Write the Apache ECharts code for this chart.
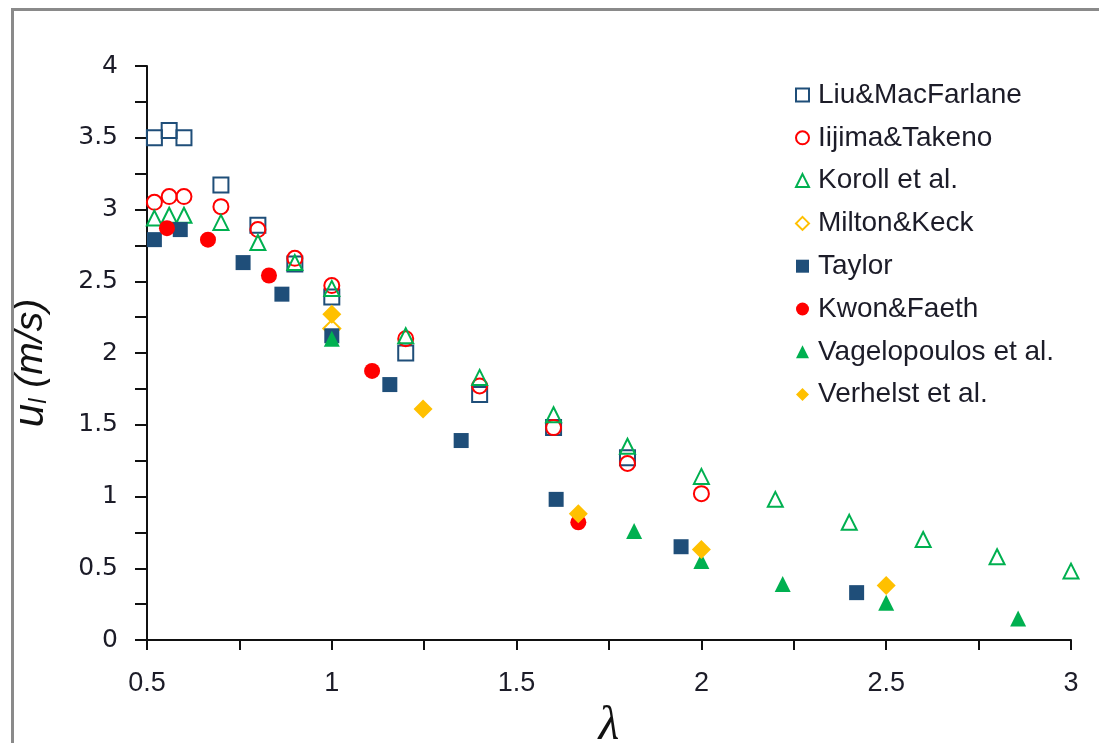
<!DOCTYPE html>
<html>
<head>
<meta charset="utf-8">
<script src="https://cdn.jsdelivr.net/npm/echarts@6/dist/echarts.min.js"></script>
<style>
  html, body { margin: 0; padding: 0; background: #fff; }
  #chart { width: 1099px; height: 743px; }
</style>
</head>
<body>
<div id="chart"></div>
<script>
// Laminar burning velocity vs. equivalence ratio, by data source
const liuX = [0.52, 0.56, 0.6, 0.7, 0.8, 0.9, 1.0, 1.2, 1.4, 1.6, 1.8];
const liuY = [3.5, 3.55, 3.5, 3.17, 2.89, 2.62, 2.39, 2.0, 1.71, 1.48, 1.27];

const iijimaX = [0.52, 0.56, 0.6, 0.7, 0.8, 0.9, 1.0, 1.2, 1.4, 1.6, 1.8, 2.0];
const iijimaY = [3.05, 3.09, 3.09, 3.02, 2.86, 2.66, 2.47, 2.1, 1.77, 1.48, 1.23, 1.02];

const korollX = [0.52, 0.56, 0.6, 0.7, 0.8, 0.9, 1.0, 1.2, 1.4, 1.6, 1.8, 2.0, 2.2, 2.4, 2.6, 2.8, 3.0];
const korollY = [2.94, 2.96, 2.96, 2.91, 2.77, 2.63, 2.45, 2.12, 1.83, 1.57, 1.35, 1.14, 0.98, 0.82, 0.7, 0.58, 0.48];

const miltonX = [1.0];
const miltonY = [2.17];

const taylorX = [0.52, 0.59, 0.76, 0.865, 1.0, 1.157, 1.35, 1.607, 1.945, 2.42];
const taylorY = [2.79, 2.86, 2.63, 2.41, 2.12, 1.78, 1.39, 0.98, 0.65, 0.33];

const kwonX = [0.554, 0.665, 0.83, 1.109, 1.667];
const kwonY = [2.87, 2.79, 2.54, 1.875, 0.82];

const vageX = [1.0, 1.818, 2.0, 2.22, 2.5, 2.857];
const vageY = [2.1, 0.76, 0.55, 0.39, 0.26, 0.15];

const verhelstX = [1.0, 1.247, 1.667, 2.0, 2.5];
const verhelstY = [2.27, 1.61, 0.88, 0.63, 0.38];

const seriesNames = ['Liu&MacFarlane', 'Iijima&Takeno', 'Koroll et al.', 'Milton&Keck',
                     'Taylor', 'Kwon&Faeth', 'Vagelopoulos et al.', 'Verhelst et al.'];

const NAVY = '#1F4E79', RED = '#FF0000', GREEN = '#00B050', ORANGE = '#FFC000';

function pairs(xs, ys) { return xs.map((x, i) => [x, ys[i]]); }

function openSeries(name, xs, ys, symbol, color, size) {
  return {
    name, type: 'scatter', data: pairs(xs, ys), symbol, symbolSize: size,
    itemStyle: { color: 'rgba(255,255,255,0)', borderColor: color, borderWidth: 2, opacity: 1 },
    emphasis: { disabled: true }
  };
}
function filledSeries(name, xs, ys, symbol, color, size) {
  return {
    name, type: 'scatter', data: pairs(xs, ys), symbol, symbolSize: size,
    itemStyle: { color: color, borderWidth: 0, opacity: 1 },
    emphasis: { disabled: true }
  };
}

const chart = echarts.init(document.getElementById('chart'), null, { renderer: 'canvas' });

const axisLine = { show: true, onZero: false, lineStyle: { color: '#111', width: 2 } };

chart.setOption({
  animation: false,
  backgroundColor: '#fff',
  graphic: [{
    type: 'rect', left: 10, top: 7, z: -10,
    shape: { width: 1200, height: 800 },
    style: { fill: 'none', stroke: '#8a8a8a', lineWidth: 3 }
  }],
  grid: { left: 147, right: 28, top: 66, bottom: 103, outerBoundsMode: 'none', containLabel: false },
  legend: {
    orient: 'vertical', left: 790, top: 76,
    itemWidth: 13, itemHeight: 13, itemGap: 14.8,
    data: seriesNames,
    textStyle: { fontFamily: 'Liberation Sans', fontSize: 28, color: '#1c1c28', lineHeight: 28, padding: [0, 0, 0, 4] }
  },
  xAxis: {
    type: 'value', min: 0.5, max: 3, interval: 0.5,
    name: 'λ', nameLocation: 'middle', nameGap: 45,
    nameTextStyle: { fontFamily: 'Liberation Serif', fontStyle: 'italic', fontSize: 48, color: '#111' },
    axisLine,
    axisTick: { show: true, length: 10, lineStyle: { color: '#111', width: 2 } },
    minorTick: { show: true, splitNumber: 2, length: 10, lineStyle: { color: '#111', width: 2 } },
    splitLine: { show: false },
    axisLabel: { margin: 30, fontFamily: 'Liberation Sans', fontSize: 27, color: '#1c1c28',
                 formatter: v => String(+v.toFixed(2)) }
  },
  yAxis: {
    type: 'value', min: 0, max: 4, interval: 0.5,
    name: '{u|u}{l|l}{p| (m/s)}', nameLocation: 'middle', nameGap: 96, nameRotate: 90,
    nameTextStyle: {
      color: '#111',
      padding: [0, 20, 0, 0],
      rich: {
        u: { fontFamily: 'Liberation Sans', fontStyle: 'italic', fontSize: 42, lineHeight: 40, color: '#111' },
        l: { fontFamily: 'Liberation Sans', fontStyle: 'italic', fontSize: 24, lineHeight: 14, verticalAlign: 'bottom', color: '#111' },
        p: { fontFamily: 'Liberation Sans', fontStyle: 'italic', fontSize: 39, lineHeight: 40, color: '#111' }
      }
    },
    axisLine,
    axisTick: { show: true, length: 12, lineStyle: { color: '#111', width: 2 } },
    minorTick: { show: true, splitNumber: 2, length: 12, lineStyle: { color: '#111', width: 2 } },
    splitLine: { show: false },
    axisLabel: { margin: 29, fontFamily: 'DejaVu Sans', fontSize: 25, color: '#1c1c28',
                 formatter: v => String(+v.toFixed(2)) }
  },
  series: [
    openSeries('Liu&MacFarlane', liuX, liuY, 'rect', NAVY, 15),
    openSeries('Iijima&Takeno', iijimaX, iijimaY, 'circle', RED, 15),
    openSeries('Koroll et al.', korollX, korollY, 'triangle', GREEN, 15),
    openSeries('Milton&Keck', miltonX, miltonY, 'diamond', ORANGE, 17),
    filledSeries('Taylor', taylorX, taylorY, 'rect', NAVY, 15),
    filledSeries('Kwon&Faeth', kwonX, kwonY, 'circle', RED, 16),
    filledSeries('Vagelopoulos et al.', vageX, vageY, 'triangle', GREEN, 16),
    filledSeries('Verhelst et al.', verhelstX, verhelstY, 'diamond', ORANGE, 19)
  ]
});
</script>
</body>
</html>
